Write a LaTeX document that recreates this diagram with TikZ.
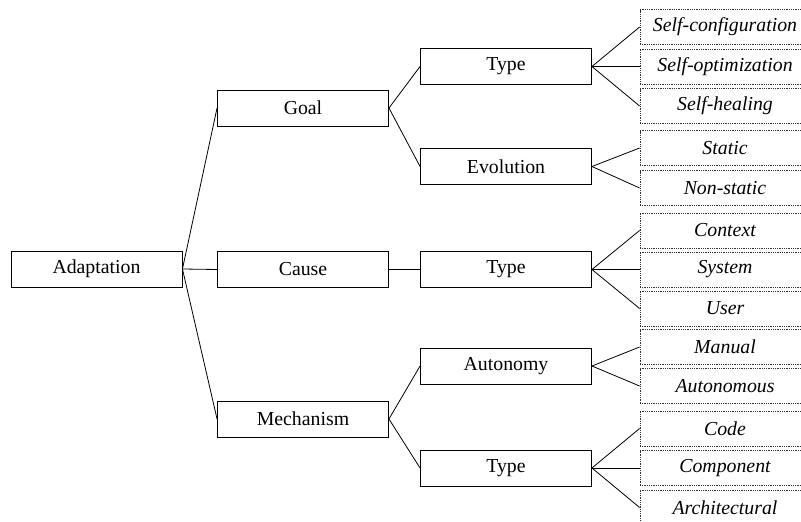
\documentclass[tikz,border=0pt]{standalone}
\usepackage{fontspec}
\setmainfont{Liberation Serif}
\usepackage{tikz}
\usetikzlibrary{positioning}
\tikzset{
boxtext/.style={
  align=center,
  font=\fontsize{19.8}{24}\selectfont
},
mainbox/.style={
  draw,
  line width=0.9pt,
  inner sep=0pt,
  minimum width=171pt,
  minimum height=36pt,
  boxtext
},
leafbox/.style={
  draw=black!80,
  densely dotted,
  line width=0.8pt,
  inner sep=0pt,
  minimum width=170pt,
  minimum height=35pt,
  boxtext,
  font=\fontsize{19.8}{24}\selectfont\itshape
},
link/.style={
  line width=0.8pt,
  draw=black
}
}

\begin{document}
\begin{tikzpicture}[x=1pt, y=-1pt]
      \clip (0,0) rectangle (801,522);
      \useasboundingbox (0,0) rectangle (801,522);

      % Root and first level
      \node[mainbox] (adapt) at (96.5,269) {Adaptation};
      \node[mainbox] (goal) at (303,108) {Goal};
      \node[mainbox] (cause) at (303,269.5) {Cause};
      \node[mainbox] (mech) at (303,419) {Mechanism};

      % Second level
      \node[mainbox] (goaltype) at (506,66.5) {Type};
      \node[mainbox] (evol) at (506,166.5) {Evolution};
      \node[mainbox] (causetype) at (506,269.5) {Type};
      \node[mainbox] (auton) at (506,366) {Autonomy};
      \node[mainbox] (mechtype) at (506,468) {Type};

      % Leaves
      \node[leafbox] (selfconf) at (725,27) {Self-configuration};
      \node[leafbox] (selfopt) at (725,66.5) {Self-optimization};
      \node[leafbox] (selfheal) at (725,106) {Self-healing};
      \node[leafbox] (static) at (725,148) {Static};
      \node[leafbox] (nonstatic) at (725,188) {Non-static};
      \node[leafbox] (context) at (725,230.5) {Context};
      \node[leafbox] (system) at (725,269.5) {System};
      \node[leafbox] (user) at (725,308.5) {User};
      \node[leafbox] (manual) at (725,347) {Manual};
      \node[leafbox] (autonomous) at (725,386) {Autonomous};
      \node[leafbox] (code) at (725,428.5) {Code};
      \node[leafbox] (component) at (725,468) {Component};
      \node[leafbox] (arch) at (725,507.5) {Architectural};

      \draw[link] (adapt.east) -- (goal.west);
      \draw[link] (adapt.east) -- (cause.west);
      \draw[link] (adapt.east) -- (mech.west);

      \draw[link] (goal.east) -- (goaltype.west);
      \draw[link] (goal.east) -- (evol.west);
      \draw[link] (cause.east) -- (causetype.west);
      \draw[link] (mech.east) -- (auton.west);
      \draw[link] (mech.east) -- (mechtype.west);

      \draw[link] (goaltype.east) -- (selfconf.west);
      \draw[link] (goaltype.east) -- (selfopt.west);
      \draw[link] (goaltype.east) -- (selfheal.west);
      \draw[link] (evol.east) -- (static.west);
      \draw[link] (evol.east) -- (nonstatic.west);
      \draw[link] (causetype.east) -- (context.west);
      \draw[link] (causetype.east) -- (system.west);
      \draw[link] (causetype.east) -- (user.west);
      \draw[link] (auton.east) -- (manual.west);
      \draw[link] (auton.east) -- (autonomous.west);
      \draw[link] (mechtype.east) -- (code.west);
      \draw[link] (mechtype.east) -- (component.west);
      \draw[link] (mechtype.east) -- (arch.west);
    \end{tikzpicture}
\end{document}
